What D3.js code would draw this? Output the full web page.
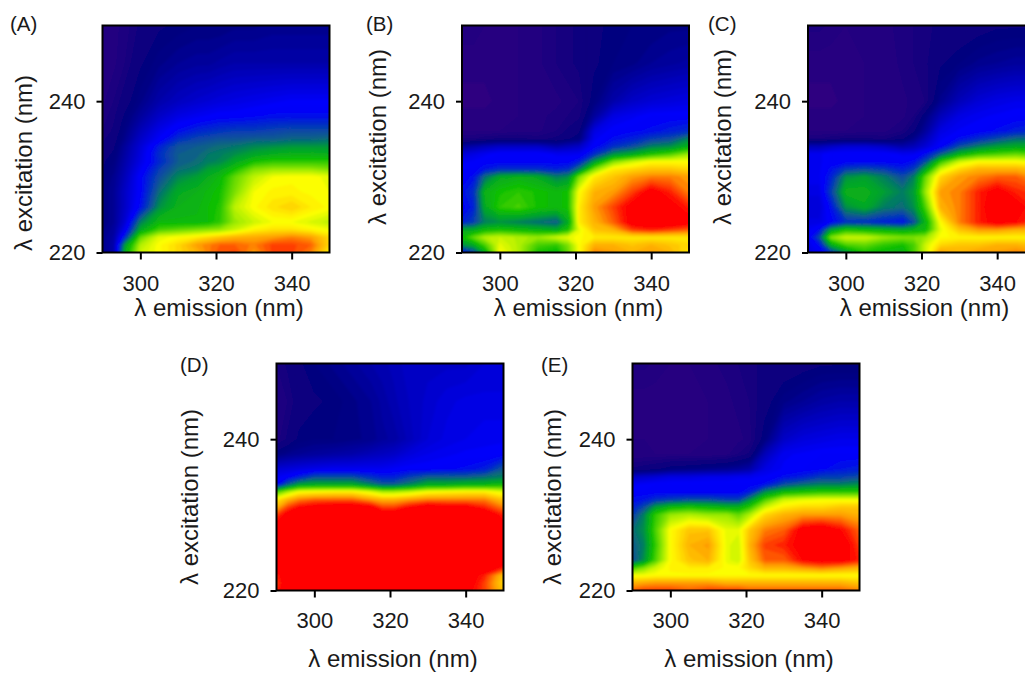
<!DOCTYPE html>
<html>
<head>
<meta charset="utf-8">
<script src="https://cdn.jsdelivr.net/npm/d3@7"></script>
<style>
html,body{margin:0;padding:0;background:#fff;overflow:hidden}
svg{display:block}
text{font-family:"Liberation Sans",Arial,sans-serif;fill:#1a1a1a}
</style>
</head>
<body>
<svg id="c" width="1025" height="673"></svg>
<script>
const emission = [290,293,296,300,305,310,315,318,321,325,330,335,340,345,350];
const excitation = [250,245,240,238,236,235,234,233,232,231,230,228,226,224,223,222,221,220];
const xTicks = [300,320,340];
const yTicks = [220,240];
const xTitle = "λ emission (nm)";
const yTitle = "λ excitation (nm)";
const panelNames = ["(A)","(B)","(C)","(D)","(E)"];

const panelA = [
[3,4,5,8,10,11,12,12,12,13,13,14,14,14,14],
[3,4,6,10,13,15,16,16,17,18,18,18,18,18,18],
[4,6,9,13,18,21,23,24,25,26,27,28,29,29,29],
[5,7,11,16,22,26,28,29,30,30,31,32,32,32,32],
[6,8,13,20,27,32,35,36,37,38,38,39,40,40,40],
[7,9,14,22,29,36,39,40,41,41,42,42,43,43,44],
[8,10,16,24,34,41,42,43,44,45,47,48,49,49,49],
[9,11,17,25,36,42,43,45,46,48,51,53,54,54,53],
[10,12,18,26,35,42,44,46,47,52,58,60,60,60,60],
[10,13,19,28,38,44,46,50,52,58,66,68,68,68,66],
[11,14,20,30,40,47,50,53,56,64,71,75,76,76,74],
[12,15,22,30,44,52,54,56,58,66,75,77,77,76,75],
[12,15,22,32,48,54,55,57,59,71,76,79,81,78,76],
[12,15,24,46,56,56,56,57,60,68,72,75,75,73,71],
[13,16,28,52,62,64,66,67,68,72,77,79,79,77,75],
[14,17,36,64,74,76,78,80,82,84,85,86,88,86,80],
[14,18,50,70,76,80,86,88,90,90,88,92,92,90,80],
[14,18,54,72,76,80,84,88,91,92,86,92,92,88,77]];
const panelB = [
[4,4,3,2,3,4,6,7,8,10,11,12,12,13,13],
[2,2,2,2,3,4,6,7,8,10,12,13,15,16,17],
[1,1,1,2,3,3,4,5,6,12,18,22,24,25,26],
[2,2,2,2,3,4,5,6,7,16,26,28,30,30,30],
[3,3,3,3,4,4,6,8,10,26,30,31,32,34,36],
[6,6,7,8,8,7,8,10,12,28,32,34,38,40,47],
[16,18,20,22,22,22,18,20,22,30,36,40,46,48,54],
[24,26,28,30,30,30,28,28,28,36,48,52,58,62,68],
[28,29,30,30,30,30,30,30,34,50,66,72,76,76,76],
[30,30,33,36,36,36,34,36,46,66,78,80,82,82,80],
[30,32,44,52,54,52,46,48,66,78,82,86,88,88,86],
[32,36,54,58,60,58,56,58,76,84,86,92,98,94,88],
[30,34,52,60,62,58,56,58,78,86,92,98,100,98,94],
[34,38,46,48,46,44,42,52,78,84,90,98,100,100,98],
[52,52,56,58,56,54,52,58,74,82,84,92,94,92,90],
[56,64,70,72,70,68,72,74,76,78,78,78,78,78,78],
[48,52,62,74,70,62,60,66,76,84,84,82,84,82,80],
[30,38,52,76,70,58,56,64,76,88,86,84,86,84,78]];
const panelC = [
[5,5,4,3,3,4,5,6,7,8,8,9,10,10,10],
[2,2,2,2,3,3,5,6,7,10,12,14,15,16,16],
[1,1,1,2,3,3,4,5,6,14,20,24,26,27,27],
[2,2,2,2,3,3,4,6,12,20,26,28,29,30,30],
[3,3,3,3,4,4,6,10,16,26,29,30,32,34,36],
[6,6,7,8,8,7,10,14,20,28,32,36,40,44,44],
[20,20,22,24,24,22,18,20,24,30,40,46,50,52,52],
[28,28,30,30,30,30,28,28,32,42,54,60,62,64,62],
[28,28,30,30,30,30,30,32,40,60,72,76,76,76,74],
[28,28,32,38,40,38,34,38,52,72,80,84,84,84,82],
[28,28,34,48,50,46,40,46,64,80,86,88,90,90,86],
[26,26,38,54,54,50,46,50,68,86,88,94,98,94,92],
[24,24,32,48,52,46,44,48,62,84,88,94,100,98,94],
[26,26,30,36,36,34,32,40,54,76,88,94,98,96,92],
[28,32,50,58,56,54,52,54,56,74,82,86,86,84,84],
[28,40,66,72,72,68,66,66,68,76,77,77,77,77,77],
[26,32,52,62,64,60,58,62,72,80,82,82,84,84,82],
[26,28,36,48,58,56,54,62,72,86,84,86,86,88,86]];
const panelD = [
[6,8,10,12,14,16,18,19,20,22,22,22,22,24,24],
[4,6,9,10,11,13,15,17,19,21,23,25,26,26,26],
[5,8,11,12,12,13,14,16,17,20,24,26,27,28,28],
[12,14,15,16,17,18,20,21,22,25,27,28,29,29,30],
[24,25,26,27,28,28,28,28,29,30,30,31,32,34,42],
[28,30,34,40,40,40,36,34,34,38,42,42,42,44,46],
[30,42,50,52,52,52,46,42,42,46,52,52,54,54,56],
[62,70,76,77,78,78,74,70,70,72,76,77,78,78,74],
[78,84,88,90,90,90,86,84,84,86,88,88,88,88,82],
[84,92,96,98,100,100,98,92,92,96,100,98,98,94,88],
[92,98,100,100,100,100,100,100,100,100,100,100,100,100,94],
[100,100,100,100,100,100,100,100,100,100,100,100,100,100,100],
[100,100,100,100,100,100,100,100,100,100,100,100,100,100,100],
[100,100,100,100,100,100,100,100,100,100,100,100,100,100,100],
[100,100,100,100,100,100,100,100,100,100,100,100,100,100,94],
[94,100,100,100,100,100,100,100,100,100,100,100,100,94,82],
[92,100,100,100,100,100,100,100,100,100,100,100,100,92,80],
[94,100,100,100,100,100,100,100,100,100,100,100,98,92,82]];
const panelE = [
[5,5,4,3,3,4,5,6,7,8,8,9,10,10,10],
[2,2,2,2,2,3,4,5,6,9,13,15,17,18,18],
[3,3,2,2,2,3,3,4,5,12,22,25,26,27,27],
[3,3,3,3,3,3,4,6,8,20,28,29,30,30,30],
[8,9,10,12,13,14,15,16,18,26,29,30,31,33,34],
[22,23,24,26,26,27,27,28,28,29,32,34,38,38,40],
[28,29,30,30,30,30,30,30,30,32,40,44,46,46,48],
[30,30,30,30,30,30,30,30,34,48,56,58,60,60,60],
[32,33,36,38,40,40,38,38,48,62,72,74,75,75,75],
[34,40,50,56,58,56,54,54,60,72,78,80,80,82,82],
[38,46,60,68,70,68,68,64,70,80,84,86,86,86,84],
[44,48,62,76,82,82,74,74,82,88,90,98,100,96,90],
[42,46,60,76,84,86,74,72,84,92,94,98,100,100,92],
[40,48,62,76,82,84,74,72,82,90,90,96,98,98,94],
[60,66,72,77,78,78,76,76,80,84,84,86,88,86,84],
[75,75,76,76,76,76,76,76,76,76,76,76,76,76,76],
[84,85,86,86,86,86,84,84,84,84,84,84,84,84,82],
[90,92,92,92,90,92,92,92,90,90,90,90,90,90,88]];
const panelValues = [panelA,panelB,panelC,panelD,panelE];

// layout only
const layout = [
 {l:102.5,t:25.5,bx:32,by:163,lx:10,ly:31,tickY:291,titleY:316},
 {l:462,t:25.5,bx:386,by:137,lx:366,ly:31,tickY:291,titleY:316},
 {l:808,t:25.5,bx:731,by:137,lx:708,ly:31,tickY:291,titleY:316},
 {l:276.5,t:363.5,bx:198,by:497,lx:180,ly:372,tickY:628,titleY:667},
 {l:632.5,t:363.5,bx:561,by:497,lx:541,ly:372,tickY:628,titleY:667}
];
const W = 227, H = 227;

const color = d3.scaleLinear()
  .domain([0,12,30,42,50,58,70,76,86,96])
  .range(["#300080","#00007f","#0000ff","#0a5a90","#00a030","#10c000","#b0f000","#ffff00","#ffa000","#ff0000"])
  .clamp(true);
const levels = d3.range(0,100.5,1.5);

const svg = d3.select("#c");
const defs = svg.append("defs");
defs.append("filter").attr("id","soft").attr("x","-5%").attr("y","-5%").attr("width","110%").attr("height","110%")
  .append("feGaussianBlur").attr("stdDeviation",0.9);

const idxToEm = d3.scaleLinear().domain(emission.map((d,i)=>i)).range(emission);
const idxToEx = d3.scaleLinear().domain(excitation.map((d,i)=>i)).range(excitation);

panelValues.forEach((rows,k)=>{
  const p = layout[k];
  const x = d3.scaleLinear().domain([290,350]).range([0,W]);
  const y = d3.scaleLinear().domain([220,250]).range([H,0]);
  const g = svg.append("g").attr("transform",`translate(${p.l},${p.t})`);
  defs.append("clipPath").attr("id","clip"+k).append("rect").attr("width",W).attr("height",H);

  const plot = g.append("g").attr("clip-path",`url(#clip${k})`).append("g").attr("filter","url(#soft)");
  plot.append("rect").attr("x",-5).attr("y",-5).attr("width",W+10).attr("height",H+10).attr("fill",color(0));

  const contours = d3.contours().size([emission.length,excitation.length]).thresholds(levels)(rows.flat());
  const path = d3.geoPath(d3.geoTransform({
    point(px,py){ this.stream.point(x(idxToEm(px-0.5)), y(idxToEx(py-0.5))); }
  }));
  plot.selectAll("path").data(contours).join("path")
    .attr("d",path).attr("fill",d=>color(d.value+0.75)).attr("stroke",d=>color(d.value+0.75)).attr("stroke-width",0.4);

  g.append("rect").attr("width",W).attr("height",H).attr("fill","none").attr("stroke","#000").attr("stroke-width",2);

  const ax = g.append("g").attr("transform",`translate(0,${H})`)
    .call(d3.axisBottom(x).tickValues(xTicks).tickSize(7).tickPadding(0));
  const ay = g.append("g").call(d3.axisLeft(y).tickValues(yTicks).tickSize(6).tickPadding(0));
  [ax,ay].forEach(a=>{
    a.select(".domain").remove();
    a.selectAll("line").attr("stroke","#000").attr("stroke-width",2);
    a.selectAll("text").attr("font-size",22).style("fill","#1a1a1a");
  });
  ax.selectAll("text").attr("dy",null).attr("y",p.tickY-(p.t+H));
  ay.selectAll("text").attr("x",-17);

  svg.append("text").attr("x",p.l+W/2+3).attr("y",p.titleY)
    .attr("text-anchor","middle").attr("font-size",24).text(xTitle);
  svg.append("text").attr("transform",`translate(${p.bx},${p.by}) rotate(-90)`)
    .attr("text-anchor","middle").attr("font-size",24).text(yTitle);
  svg.append("text").attr("x",p.lx).attr("y",p.ly).attr("font-size",20.5).text(panelNames[k]);
});
</script>
</body>
</html>
